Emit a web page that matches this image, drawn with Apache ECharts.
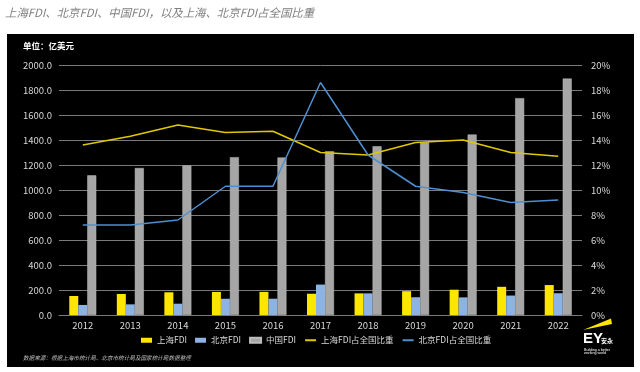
<!DOCTYPE html>
<html>
<head>
<meta charset="utf-8">
<script src="https://cdn.jsdelivr.net/npm/echarts@6/dist/echarts.min.js"></script>
<style>html,body{margin:0;padding:0;background:#fff;}#c{width:640px;height:372px;}</style>
</head>
<body>
<div id="c"></div>
<script>
const years = ['2012','2013','2014','2015','2016','2017','2018','2019','2020','2021','2022'];
const shanghaiFDI = [151.9, 167.8, 181.7, 184.6, 185.1, 170.1, 173.0, 190.5, 202.3, 225.5, 239.6];
const beijingFDI  = [80.4, 85.2, 90.4, 130.0, 130.3, 243.3, 173.1, 142.1, 141.0, 155.6, 174.1];
const chinaFDI    = [1117.2, 1176.0, 1196.0, 1262.7, 1260.0, 1310.4, 1349.7, 1381.4, 1443.7, 1734.8, 1891.3];
const shanghaiShare = [13.6, 14.3, 15.2, 14.6, 14.7, 13.0, 12.8, 13.8, 14.0, 13.0, 12.7];
const beijingShare  = [7.2, 7.2, 7.6, 10.3, 10.3, 18.6, 12.8, 10.3, 9.8, 9.0, 9.2];
const leftTicks = {min: 0, max: 2000, interval: 200};
const rightTicks = {min: 0, max: 20, interval: 2};

const FONT = '"Noto Sans CJK SC", "Noto Sans", sans-serif';
const chart = echarts.init(document.getElementById('c'), null, {renderer: 'canvas'});
const hidden = {color: 'rgba(0,0,0,0)', borderWidth: 0};
chart.setOption({
  backgroundColor: '#ffffff',
  animation: false,
  textStyle: {fontFamily: FONT},
  graphic: [
    {type: 'rect', z: -10, shape: {x: 7, y: 34, width: 627, height: 333}, style: {fill: '#000000'}},
    {type: 'text', left: 5, top: 7, style: {text: '上海FDI、北京FDI、中国FDI，以及上海、北京FDI占全国比重', fill: '#7f7f7f', font: 'italic 11.4px ' + FONT}},
    {type: 'text', left: 23, top: 42, style: {text: '单位：亿美元', fill: '#ffffff', font: 'bold 8.5px ' + FONT}},
    {type: 'text', left: 23, top: 355, style: {text: '数据来源：根据上海市统计局、北京市统计局及国家统计局数据整理', fill: '#bfbfbf', font: 'italic 5.6px ' + FONT}},
    {type: 'polygon', shape: {points: [[583, 330], [611, 318.5], [612, 324]]}, style: {fill: '#ffe600'}},
    {type: 'text', left: 583, top: 331, style: {text: 'EY', fill: '#ffffff', font: 'bold 15px "Liberation Sans", Arial, sans-serif'}},
    {type: 'text', left: 601, top: 337.5, style: {text: '安永', fill: '#ffffff', font: 'bold 6px ' + FONT}},
    {type: 'text', left: 584, top: 347.5, style: {text: 'Building a better\nworking world', fill: '#ffffff', font: '3.6px "Liberation Sans", Arial, sans-serif', lineHeight: 3.8}}
  ],
  legend: {
    left: 136, top: 331,
    itemWidth: 11, itemHeight: 5, itemGap: 8,
    textStyle: {color: '#d9d9d9', fontSize: 8.5, fontFamily: FONT},
    data: [
      {name: '上海FDI', icon: 'rect'},
      {name: '北京FDI', icon: 'rect'},
      {name: '中国FDI', icon: 'rect'},
      {name: '上海FDI占全国比重', itemStyle: hidden},
      {name: '北京FDI占全国比重', itemStyle: hidden}
    ]
  },
  grid: {left: 59, right: 58, top: 65, bottom: 57, containLabel: false},
  xAxis: {
    type: 'category', data: years,
    axisLine: {lineStyle: {color: '#7a7a7a', width: 1}},
    axisTick: {show: false},
    axisLabel: {color: '#d9d9d9', fontSize: 9.5, fontFamily: FONT, margin: 6}
  },
  yAxis: [
    {type: 'value', min: leftTicks.min, max: leftTicks.max, interval: leftTicks.interval,
     axisLine: {show: false}, axisTick: {show: false},
     axisLabel: {color: '#d9d9d9', fontSize: 9.5, fontFamily: FONT, margin: 7, formatter: v => v.toFixed(1)},
     splitLine: {lineStyle: {color: '#7a7a7a', width: 1}}},
    {type: 'value', min: rightTicks.min, max: rightTicks.max, interval: rightTicks.interval,
     axisLine: {show: false}, axisTick: {show: false},
     axisLabel: {color: '#d9d9d9', fontSize: 9.5, fontFamily: FONT, margin: 9, formatter: '{value}%'},
     splitLine: {show: false}}
  ],
  series: [
    {name: '上海FDI', type: 'bar', data: shanghaiFDI, barWidth: 9, barGap: '0%', itemStyle: {color: '#ffe600'}},
    {name: '北京FDI', type: 'bar', data: beijingFDI, barWidth: 9, barGap: '0%', itemStyle: {color: '#8db3e2'}},
    {name: '中国FDI', type: 'bar', data: chinaFDI, barWidth: 9, barGap: '0%', itemStyle: {color: '#a6a6a6', borderColor: '#bdbdbd', borderWidth: 0.5}},
    {name: '上海FDI占全国比重', type: 'line', yAxisIndex: 1, data: shanghaiShare, symbol: 'none', z: 5,
     lineStyle: {color: '#e0c800', width: 1.5}, itemStyle: {color: '#e0c800'}},
    {name: '北京FDI占全国比重', type: 'line', yAxisIndex: 1, data: beijingShare, symbol: 'none', z: 5,
     lineStyle: {color: '#4f8fcf', width: 1.5}, itemStyle: {color: '#4f8fcf'}}
  ]
});
</script>
</body>
</html>
